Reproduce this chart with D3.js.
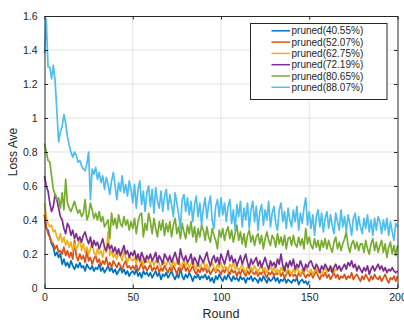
<!DOCTYPE html>
<html lang="en">
<head>
<meta charset="utf-8">
<title>Loss Ave by Round</title>
<script src="https://cdn.jsdelivr.net/npm/d3@7"></script>
<style>
  body { margin: 0; background: #fff; }
  text { font-family: "Liberation Sans", Arial, Helvetica, sans-serif; fill: #262626; }
</style>
</head>
<body>
<script>
// series names and colours (MATLAB default order)
var seriesNames = ["pruned(40.55%)", "pruned(52.07%)", "pruned(62.75%)",
                   "pruned(72.19%)", "pruned(80.65%)", "pruned(88.07%)"];
var seriesColors = ["#0072BD", "#D95319", "#EDB120", "#7E2F8E", "#77AC30", "#4DBEEE"];

var xTicks = [0, 50, 100, 150, 200];
var xTickLabels = ["0", "50", "100", "150", "200"];
var yTicks = [0, 0.2, 0.4, 0.6, 0.8, 1, 1.2, 1.4, 1.6];
var yTickLabels = ["0", "0.2", "0.4", "0.6", "0.8", "1", "1.2", "1.4", "1.6"];

// values per round, starting at round 0
var loss4055 = [
  0.43,0.35,0.34,0.30,0.26,0.24,0.19,0.21,0.18,0.20,
  0.14,0.17,0.13,0.15,0.12,0.16,0.13,0.11,0.14,0.12,
  0.15,0.12,0.13,0.10,0.14,0.12,0.11,0.13,0.10,0.12,
  0.11,0.14,0.10,0.12,0.09,0.11,0.13,0.10,0.12,0.09,
  0.11,0.08,0.10,0.12,0.09,0.11,0.08,0.10,0.07,0.09,
  0.10,0.08,0.11,0.07,0.09,0.06,0.10,0.08,0.09,0.07,
  0.09,0.06,0.08,0.10,0.07,0.09,0.05,0.08,0.07,0.09,
  0.06,0.08,0.10,0.07,0.05,0.08,0.06,0.12,0.07,0.05,
  0.08,0.06,0.09,0.07,0.04,0.07,0.06,0.08,0.05,0.07,
  0.06,0.08,0.05,0.07,0.04,0.06,0.03,0.07,0.05,0.08,
  0.06,0.04,0.07,0.05,0.08,0.06,0.04,0.07,0.05,0.06,
  0.04,0.07,0.05,0.06,0.03,0.06,0.05,0.07,0.04,0.06,
  0.05,0.03,0.06,0.04,0.07,0.05,0.03,0.06,0.04,0.05,
  0.07,0.04,0.06,0.03,0.05,0.04,0.06,0.03,0.05,0.04,
  0.03,0.05,0.04,0.06,0.02,0.04,0.05,0.03,0.04,0.02,
  0.04];
var loss5207 = [
  0.43,0.36,0.32,0.30,0.27,0.26,0.23,0.25,0.21,0.22,
  0.20,0.24,0.19,0.22,0.18,0.21,0.17,0.28,0.19,0.16,
  0.20,0.17,0.19,0.15,0.22,0.16,0.18,0.14,0.17,0.19,
  0.15,0.17,0.13,0.16,0.14,0.18,0.13,0.15,0.12,0.16,
  0.14,0.12,0.15,0.13,0.11,0.14,0.16,0.12,0.13,0.11,
  0.13,0.11,0.14,0.10,0.12,0.15,0.11,0.13,0.10,0.12,
  0.14,0.10,0.12,0.11,0.13,0.09,0.12,0.10,0.13,0.11,
  0.09,0.12,0.10,0.13,0.11,0.08,0.12,0.10,0.11,0.14,
  0.10,0.12,0.09,0.11,0.13,0.10,0.08,0.11,0.09,0.12,
  0.10,0.13,0.09,0.11,0.08,0.10,0.12,0.09,0.11,0.10,
  0.08,0.11,0.09,0.12,0.10,0.08,0.11,0.09,0.10,0.07,
  0.10,0.08,0.11,0.09,0.07,0.10,0.08,0.11,0.09,0.08,
  0.10,0.07,0.09,0.08,0.11,0.08,0.06,0.09,0.08,0.10,
  0.07,0.09,0.08,0.10,0.07,0.09,0.06,0.08,0.10,0.07,
  0.09,0.07,0.08,0.06,0.09,0.07,0.10,0.08,0.06,0.08,
  0.07,0.09,0.06,0.08,0.10,0.07,0.05,0.08,0.07,0.09,
  0.06,0.08,0.05,0.07,0.09,0.06,0.08,0.05,0.07,0.06,
  0.08,0.05,0.07,0.06,0.09,0.05,0.07,0.08,0.06,0.04,
  0.07,0.05,0.08,0.06,0.04,0.07,0.05,0.08,0.06,0.05,
  0.07,0.04,0.06,0.08,0.05,0.03,0.06,0.05,0.07,0.04,
  0.07];
var loss6275 = [
  0.50,0.42,0.38,0.36,0.37,0.33,0.34,0.30,0.28,0.32,
  0.27,0.30,0.25,0.28,0.24,0.27,0.22,0.26,0.23,0.25,
  0.30,0.22,0.26,0.21,0.24,0.20,0.23,0.27,0.21,0.19,
  0.23,0.20,0.22,0.18,0.24,0.21,0.33,0.19,0.22,0.18,
  0.20,0.17,0.21,0.19,0.16,0.22,0.18,0.15,0.19,0.17,
  0.16,0.18,0.14,0.19,0.15,0.17,0.13,0.18,0.15,0.16,
  0.14,0.17,0.13,0.16,0.18,0.14,0.12,0.16,0.15,0.13,
  0.17,0.14,0.12,0.16,0.13,0.15,0.18,0.12,0.14,0.16,
  0.13,0.15,0.12,0.14,0.17,0.13,0.11,0.15,0.12,0.14,
  0.16,0.12,0.14,0.11,0.13,0.15,0.12,0.10,0.14,0.12,
  0.15,0.11,0.13,0.12,0.10,0.14,0.12,0.15,0.11,0.13,
  0.10,0.12,0.14,0.11,0.09,0.13,0.11,0.12,0.10,0.13,
  0.11,0.09,0.12,0.14,0.10,0.12,0.09,0.11,0.13,0.10,
  0.12,0.09,0.11,0.08,0.12,0.10,0.13,0.09,0.11,0.10,
  0.08,0.11,0.09,0.12,0.10,0.08,0.11,0.09,0.12,0.10,
  0.09,0.11,0.08,0.10,0.12,0.09,0.11,0.08,0.10,0.12,
  0.09,0.11,0.10,0.12,0.09,0.11,0.10];
var loss7219 = [
  0.66,0.60,0.57,0.50,0.45,0.48,0.55,0.52,0.47,0.42,
  0.40,0.35,0.32,0.38,0.36,0.31,0.34,0.29,0.32,0.28,
  0.30,0.27,0.31,0.33,0.29,0.26,0.30,0.24,0.28,0.25,
  0.27,0.23,0.26,0.29,0.24,0.22,0.26,0.23,0.25,0.21,
  0.24,0.20,0.23,0.19,0.22,0.25,0.20,0.22,0.18,0.21,
  0.19,0.22,0.17,0.20,0.16,0.21,0.18,0.15,0.19,0.17,
  0.20,0.16,0.18,0.21,0.15,0.19,0.17,0.14,0.20,0.18,
  0.16,0.19,0.15,0.18,0.21,0.17,0.14,0.23,0.18,0.16,
  0.19,0.15,0.17,0.20,0.14,0.18,0.16,0.13,0.19,0.17,
  0.15,0.18,0.21,0.16,0.13,0.17,0.19,0.15,0.18,0.14,
  0.20,0.17,0.14,0.18,0.22,0.16,0.19,0.15,0.17,0.13,
  0.16,0.19,0.14,0.17,0.20,0.15,0.12,0.17,0.14,0.16,
  0.18,0.13,0.16,0.12,0.15,0.18,0.14,0.11,0.16,0.13,
  0.15,0.12,0.17,0.14,0.20,0.13,0.10,0.15,0.12,0.16,
  0.13,0.17,0.11,0.14,0.12,0.16,0.13,0.10,0.14,0.12,
  0.15,0.16,0.13,0.11,0.14,0.12,0.09,0.13,0.11,0.14,
  0.12,0.10,0.13,0.09,0.12,0.14,0.11,0.13,0.10,0.12,
  0.14,0.11,0.15,0.13,0.16,0.12,0.14,0.10,0.13,0.11,
  0.09,0.12,0.10,0.13,0.08,0.11,0.13,0.10,0.12,0.14,
  0.11,0.13,0.10,0.12,0.09,0.11,0.10,0.12,0.10,0.09,
  0.10];
var loss8065 = [
  0.85,0.80,0.75,0.74,0.66,0.58,0.55,0.52,0.53,0.47,
  0.56,0.46,0.64,0.50,0.47,0.45,0.48,0.51,0.47,0.44,
  0.46,0.42,0.44,0.52,0.40,0.43,0.50,0.46,0.41,0.44,
  0.40,0.45,0.39,0.42,0.36,0.38,0.40,0.29,0.44,0.37,
  0.41,0.35,0.43,0.38,0.36,0.42,0.37,0.40,0.34,0.39,
  0.35,0.41,0.32,0.39,0.43,0.44,0.30,0.38,0.34,0.44,
  0.39,0.32,0.41,0.35,0.30,0.39,0.34,0.40,0.31,0.38,
  0.33,0.39,0.30,0.37,0.41,0.32,0.36,0.29,0.38,0.33,
  0.29,0.37,0.32,0.39,0.30,0.36,0.27,0.35,0.30,0.37,
  0.34,0.28,0.36,0.30,0.27,0.35,0.31,0.28,0.23,0.34,
  0.30,0.35,0.28,0.33,0.36,0.29,0.34,0.27,0.32,0.37,
  0.28,0.33,0.26,0.32,0.24,0.31,0.34,0.27,0.31,0.25,
  0.30,0.32,0.26,0.31,0.23,0.29,0.33,0.28,0.25,0.31,
  0.29,0.24,0.32,0.26,0.30,0.25,0.31,0.23,0.29,0.30,
  0.25,0.31,0.26,0.24,0.30,0.25,0.29,0.23,0.35,0.26,
  0.30,0.25,0.23,0.29,0.24,0.28,0.22,0.28,0.24,0.29,
  0.23,0.28,0.24,0.21,0.27,0.30,0.23,0.27,0.22,0.26,
  0.29,0.33,0.25,0.21,0.26,0.28,0.23,0.27,0.22,0.26,
  0.26,0.21,0.28,0.23,0.20,0.26,0.29,0.22,0.27,0.21,
  0.25,0.28,0.21,0.26,0.18,0.24,0.27,0.20,0.25,0.19,
  0.25];
var loss8807 = [
  1.38,1.58,1.30,1.30,1.23,1.31,1.22,1.04,0.86,0.92,
  0.95,1.02,0.97,0.89,0.84,0.80,0.77,0.80,0.78,0.74,
  0.75,0.72,0.70,0.69,0.73,0.80,0.52,0.70,0.67,0.71,
  0.64,0.68,0.62,0.66,0.58,0.65,0.61,0.55,0.63,0.68,
  0.60,0.52,0.62,0.57,0.66,0.56,0.61,0.54,0.63,0.58,
  0.50,0.61,0.47,0.58,0.63,0.49,0.57,0.45,0.56,0.60,
  0.48,0.58,0.44,0.59,0.51,0.47,0.57,0.45,0.54,0.58,
  0.46,0.55,0.49,0.42,0.56,0.50,0.43,0.35,0.52,0.55,
  0.45,0.53,0.43,0.51,0.39,0.49,0.54,0.42,0.50,0.37,
  0.47,0.53,0.41,0.49,0.54,0.40,0.35,0.48,0.52,0.42,
  0.53,0.43,0.50,0.39,0.48,0.52,0.38,0.46,0.34,0.49,
  0.42,0.51,0.36,0.47,0.40,0.50,0.35,0.46,0.51,0.39,
  0.48,0.34,0.45,0.49,0.37,0.46,0.40,0.51,0.36,0.44,
  0.48,0.38,0.34,0.46,0.50,0.39,0.45,0.35,0.47,0.40,
  0.36,0.46,0.39,0.48,0.34,0.44,0.38,0.47,0.53,0.37,
  0.45,0.35,0.43,0.31,0.42,0.46,0.36,0.44,0.33,0.41,
  0.45,0.35,0.43,0.37,0.32,0.44,0.39,0.34,0.46,0.36,
  0.42,0.33,0.43,0.38,0.31,0.41,0.44,0.34,0.42,0.36,
  0.32,0.41,0.35,0.43,0.33,0.40,0.31,0.41,0.34,0.42,
  0.39,0.32,0.40,0.34,0.41,0.31,0.39,0.33,0.28,0.38,
  0.36];

var seriesValues = [loss4055, loss5207, loss6275, loss7219, loss8065, loss8807];

var margin = {top: 16, right: 6.5, bottom: 32, left: 44.5};
var w = 404 - margin.left - margin.right;
var h = 320 - margin.top - margin.bottom;

var x = d3.scaleLinear().domain([0, 200]).range([0, w]);
var y = d3.scaleLinear().domain([0, 1.6]).range([h, 0]);

var svg = d3.select("body").append("svg")
    .attr("width", 404)
    .attr("height", 320)
  .append("g")
    .attr("transform", "translate(" + margin.left + "," + margin.top + ")");

// grid
svg.append("g").selectAll("line")
    .data(xTicks.slice(1, -1))
  .enter().append("line")
    .attr("x1", function(d) { return x(d); }).attr("x2", function(d) { return x(d); })
    .attr("y1", 0).attr("y2", h)
    .style("stroke", "#e3e3e3").style("stroke-width", 1);
svg.append("g").selectAll("line")
    .data(yTicks.slice(1, -1))
  .enter().append("line")
    .attr("y1", function(d) { return y(d); }).attr("y2", function(d) { return y(d); })
    .attr("x1", 0).attr("x2", w)
    .style("stroke", "#e3e3e3").style("stroke-width", 1);

// lines
var line = d3.line()
    .x(function(d, i) { return x(i); })
    .y(function(d) { return y(d); });

svg.selectAll(".series")
    .data(seriesValues)
  .enter().append("path")
    .attr("class", "series")
    .attr("d", line)
    .style("fill", "none")
    .style("stroke", function(d, i) { return seriesColors[i]; })
    .style("stroke-width", 1.7)
    .style("stroke-linejoin", "round");

// axes (MATLAB style: ticks inside, box all around)
function styleAxis(g) {
  g.select(".domain").style("stroke", "#262626").style("stroke-width", 1);
  g.selectAll(".tick line").style("stroke", "#262626").style("stroke-width", 1);
  g.selectAll("text").style("font-size", "10.5px").style("fill", "#262626")
    .style("font-family", "'Liberation Sans', Arial, sans-serif");
}

svg.append("g")
    .attr("transform", "translate(0," + h + ")")
    .call(d3.axisBottom(x).tickValues(xTicks).tickSizeInner(-3.5).tickSizeOuter(0).tickPadding(6)
      .tickFormat(function(d, i) { return xTickLabels[i]; }))
    .call(styleAxis);
svg.append("g")
    .call(d3.axisTop(x).tickValues(xTicks).tickSizeInner(-3.5).tickSizeOuter(0).tickFormat(""))
    .call(styleAxis);
svg.append("g")
    .call(d3.axisLeft(y).tickValues(yTicks).tickSizeInner(-3.5).tickSizeOuter(0).tickPadding(7)
      .tickFormat(function(d, i) { return yTickLabels[i]; }))
    .call(styleAxis);
svg.append("g")
    .attr("transform", "translate(" + w + ",0)")
    .call(d3.axisRight(y).tickValues(yTicks).tickSizeInner(-3.5).tickSizeOuter(0).tickFormat(""))
    .call(styleAxis);

// axis labels
svg.append("text")
    .attr("x", w / 2)
    .attr("y", h + 30)
    .attr("text-anchor", "middle")
    .style("font-size", "12.5px")
    .text("Round");
svg.append("text")
    .attr("transform", "translate(" + (-28) + "," + (h / 2) + ") rotate(-90)")
    .attr("text-anchor", "middle")
    .style("font-size", "12px")
    .text("Loss Ave");

// legend
var legend = svg.append("g")
    .attr("transform", "translate(" + (250.5 - margin.left) + "," + (23.5 - margin.top) + ")");
legend.append("rect")
    .attr("width", 136.5)
    .attr("height", 76)
    .style("fill", "#fff")
    .style("stroke", "#262626")
    .style("stroke-width", 1);
var items = legend.selectAll(".item")
    .data(seriesNames)
  .enter().append("g")
    .attr("class", "item")
    .attr("transform", function(d, i) { return "translate(0," + (7.3 + i * 11.3) + ")"; });
items.append("line")
    .attr("x1", 21).attr("x2", 39.5)
    .attr("y1", 0).attr("y2", 0)
    .style("stroke", function(d, i) { return seriesColors[i]; })
    .style("stroke-width", 1.5);
items.append("text")
    .attr("x", 41)
    .attr("y", 3.6)
    .style("font-size", "10px")
    .text(function(d) { return d; });
</script>
</body>
</html>
